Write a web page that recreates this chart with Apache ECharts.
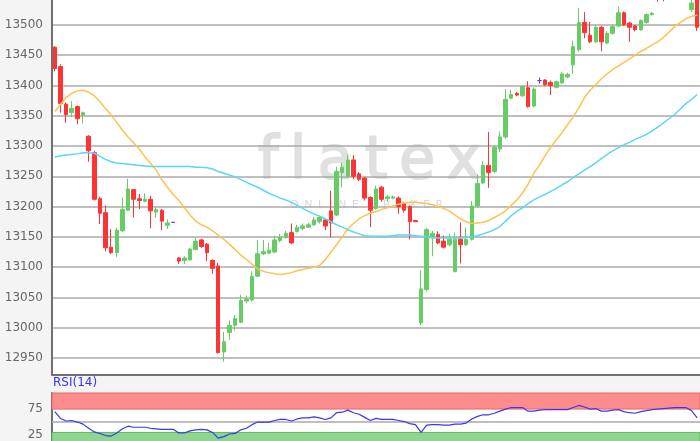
<!DOCTYPE html>
<html>
<head>
<meta charset="utf-8">
<script src="https://cdn.jsdelivr.net/npm/echarts@6/dist/echarts.min.js"></script>
<style>
  html, body { margin: 0; padding: 0; background: #f4f4f4; }
  #chart { width: 700px; height: 441px; }
</style>
</head>
<body>
<div id="chart"></div>
<script>
// Kursdaten (OHLC)
const opens = [
  13463, 13431, 13369, 13355, 13365, 13351, 13316, 13289, 13213, 13190,
  13133, 13124, 13160, 13194, 13228, 13213, 13209, 13212, 13191, 13194,
  13169, 13174, 13115, 13111, 13112, 13129, 13145, 13138, 13111, 13102,
  12960, 12992, 13004, 13009, 13044, 13046, 13085, 13122, 13123, 13125,
  13144, 13149, 13157, 13159, 13164, 13166, 13170, 13175, 13178, 13193,
  13186, 13256, 13250, 13277, 13254, 13247, 13215, 13197, 13232, 13213,
  13214, 13214, 13205, 13200, 13177, 13008, 13063, 13148, 13154, 13143,
  13137, 13093, 13146, 13137, 13146, 13201, 13239, 13268, 13258, 13295,
  13315, 13379, 13387, 13383, 13396, 13366, 13408, 13409, 13405, 13397,
  13404, 13414, 13434, 13459, 13504, 13483, 13472, 13496, 13470, 13486,
  13498, 13520, 13503, 13498, 13492, 13504, 13517, 13560, 13555, 13560,
  13575, 13580, 13570, 13525, 13548
];
const closes = [
  13428, 13370, 13352, 13362, 13345, 13355, 13292, 13212, 13189, 13132,
  13124, 13161, 13195, 13229, 13212, 13210, 13212, 13193, 13195, 13176,
  13173, 13174, 13110, 13115, 13130, 13143, 13134, 13124, 13098, 12959,
  12977, 13004, 13015, 13045, 13047, 13085, 13122, 13126, 13128, 13145,
  13149, 13156, 13140, 13166, 13168, 13170, 13178, 13182, 13168, 13173,
  13258, 13265, 13277, 13250, 13245, 13214, 13194, 13229, 13212, 13216,
  13216, 13200, 13194, 13175, 13175, 13064, 13162, 13156, 13140, 13133,
  13146, 13146, 13137, 13146, 13201, 13238, 13268, 13256, 13298, 13315,
  13377, 13385, 13384, 13398, 13365, 13394, 13408, 13401, 13400, 13406,
  13419, 13418, 13464, 13504, 13487, 13472, 13496, 13472, 13486, 13497,
  13520, 13500, 13496, 13492, 13507, 13517, 13519, 13545, 13547, 13575,
  13582, 13572, 13560, 13536, 13496
];
const lows = [
  13423, 13355, 13338, 13348, 13336, 13337, 13274, 13210, 13171, 13126,
  13122, 13117, 13158, 13193, 13182, 13196, 13207, 13164, 13182, 13161,
  13163, 13174, 13105, 13105, 13111, 13128, 13132, 13110, 13089, 12957,
  12944, 12980, 12995, 13008, 13041, 13043, 13084, 13120, 13121, 13123,
  13141, 13147, 13138, 13157, 13161, 13165, 13168, 13172, 13161, 13149,
  13184, 13232, 13248, 13245, 13242, 13210, 13166, 13195, 13208, 13208,
  13212, 13188, 13190, 13146, 13175, 13004, 13060, 13118, 13138, 13131,
  13134, 13091, 13106, 13135, 13144, 13199, 13237, 13231, 13255, 13290,
  13312, 13377, 13382, 13381, 13363, 13364, 13403, 13399, 13384, 13395,
  13403, 13412, 13419, 13456, 13478, 13470, 13470, 13456, 13468, 13484,
  13496, 13498, 13472, 13489, 13490, 13502, 13515, 13538, 13539, 13555,
  13568, 13565, 13550, 13521, 13490
];
const highs = [
  13465, 13435, 13372, 13374, 13367, 13357, 13318, 13292, 13216, 13202,
  13163, 13165, 13215, 13246, 13229, 13221, 13222, 13218, 13198, 13196,
  13179, 13174, 13117, 13118, 13132, 13149, 13147, 13140, 13113, 13107,
  12993, 13012, 13021, 13054, 13053, 13093, 13145, 13145, 13140, 13152,
  13155, 13160, 13172, 13170, 13172, 13173, 13183, 13185, 13180, 13226,
  13266, 13272, 13285, 13285, 13257, 13249, 13217, 13234, 13234, 13219,
  13218, 13217, 13207, 13202, 13177, 13095, 13165, 13160, 13159, 13152,
  13155, 13157, 13174, 13165, 13209, 13253, 13275, 13323, 13301, 13324,
  13394, 13393, 13389, 13399, 13407, 13397, 13413, 13410, 13408, 13408,
  13422, 13421, 13474, 13528, 13521, 13505, 13500, 13498, 13490, 13500,
  13530, 13522, 13505, 13500, 13509, 13519, 13521, 13565, 13570, 13580,
  13590, 13588, 13578, 13545, 13555
];
// gleitende Durchschnitte (orange = kurz, hellblau = lang)
const maShort = [
  13357, 13368, 13380, 13387, 13391, 13392, 13389, 13383, 13373, 13362,
  13351, 13339, 13326, 13315, 13305, 13295, 13282, 13271, 13260, 13244,
  13232, 13220, 13210, 13198, 13186, 13176, 13170, 13166, 13160, 13153,
  13146, 13138, 13129, 13120, 13113, 13105, 13097, 13093, 13091, 13089,
  13088, 13089, 13091, 13094, 13096, 13098, 13100, 13103, 13112, 13125,
  13137, 13150, 13163, 13172, 13180, 13185, 13189, 13192, 13195, 13198,
  13201, 13204, 13206, 13207, 13207, 13206, 13205, 13203, 13200, 13197,
  13193, 13186, 13180, 13175, 13172, 13173, 13174, 13177, 13182, 13187,
  13193, 13202, 13211, 13222, 13237, 13255, 13268, 13284, 13298, 13310,
  13322, 13335, 13348, 13363, 13380, 13392, 13401, 13411, 13419, 13426,
  13432, 13438, 13444, 13450, 13456, 13461, 13467, 13472, 13479, 13488,
  13497, 13504, 13510, 13514, 13516
];
const maLong = [
  13282, 13284, 13285, 13286, 13287, 13289, 13289, 13288, 13283, 13278,
  13274, 13272, 13271, 13270, 13269, 13268, 13267, 13266, 13266, 13266,
  13266, 13266, 13266, 13266, 13266, 13265, 13265, 13264, 13262, 13258,
  13255, 13252, 13249, 13245, 13240, 13236, 13232, 13227, 13222, 13218,
  13214, 13211, 13207, 13202, 13197, 13192, 13188, 13184, 13180, 13175,
  13170, 13166, 13162, 13158, 13155, 13152, 13151, 13151, 13151, 13151,
  13152, 13153, 13153, 13153, 13152, 13151, 13150, 13149, 13148, 13148,
  13148, 13148, 13148, 13149, 13150, 13152, 13155, 13158, 13162, 13167,
  13176, 13185, 13192, 13198, 13205, 13211, 13216, 13220, 13225, 13230,
  13236, 13241, 13248, 13254, 13260, 13266, 13272, 13279, 13286, 13292,
  13297, 13302, 13306, 13311, 13315, 13319, 13325, 13331, 13338, 13345,
  13352, 13361, 13370, 13377, 13385
];
const rsiValues = [
  70, 57, 52, 53, 50, 46, 38, 31, 28, 24,
  23, 29, 37, 42, 40, 40, 40, 38, 37, 36,
  36, 36, 29, 29, 33, 35, 36, 35, 30, 19,
  22, 27, 28, 35, 38, 45, 50, 50, 50, 53,
  55, 55, 52, 56, 58, 58, 60, 58, 55, 58,
  68, 69, 73, 68, 65, 59, 53, 57, 55, 55,
  55, 53, 51, 47, 45, 30, 44, 45, 45, 44,
  44, 46, 46, 48, 56, 61, 64, 64, 67, 71,
  75, 78, 78, 78, 71, 71, 73, 74, 74, 74,
  74, 74, 78, 82, 79, 75, 76, 71, 71, 73,
  74, 70, 68, 67, 70, 72, 74, 75, 76, 77,
  78, 78, 78, 72, 58
];
const rsiLabels = [25, 75];
const rsiOverbought = [75, 106];
const rsiOversold = [0, 30];

const categories = opens.map((v, i) => String(i + 1));
const candleData = opens.map((o, i) => [o, closes[i], lows[i], highs[i]]);

const chart = echarts.init(document.getElementById('chart'));

const option = {
  backgroundColor: '#f4f4f4',
  animation: false,
  title: {
    text: 'RSI(14)',
    left: 53,
    top: 377,
    padding: 0,
    textStyle: { color: '#3535f5', fontSize: 12, fontWeight: 'normal', fontFamily: 'DejaVu Sans' }
  },
  grid: [
    { left: 52, right: 0, top: 0, height: 375, show: true, backgroundColor: '#fff', borderWidth: 0, z: -2, outerBoundsMode: 'none' },
    { left: 52, right: 0, top: 393, height: 55, show: true, backgroundColor: '#fff', borderWidth: 0, z: -2, outerBoundsMode: 'none' }
  ],
  graphic: [
    {
      type: 'text', left: 257, top: 133, z: -1,
      style: {
        text: 'f\u2009l\u2009a\u2009t\u2009e\u2009x',
        font: '58px "DejaVu Sans"',
        fill: '#e0e0e0', stroke: '#e0e0e0', lineWidth: 2
      }
    },
    {
      type: 'text', left: 290, top: 200, z: -1,
      style: {
        text: 'O\u2002N\u2002L\u2002I\u2002N\u2002E\u2002\u2002B\u2002R\u2002O\u2002K\u2002E\u2002R',
        font: '11px "DejaVu Sans"',
        fill: '#d9d9d9'
      }
    }
  ],
  xAxis: [
    {
      type: 'category', data: categories, gridIndex: 0, boundaryGap: true,
      axisLine: { show: true, lineStyle: { color: '#707070', width: 2 } },
      axisTick: { show: false }, axisLabel: { show: false }, splitLine: { show: false }
    },
    {
      type: 'category', data: categories, gridIndex: 1, boundaryGap: true, position: 'top',
      axisLine: { show: true, lineStyle: { color: '#707070', width: 2 } },
      axisTick: { show: false }, axisLabel: { show: false }, splitLine: { show: false }
    }
  ],
  yAxis: [
    {
      type: 'value', gridIndex: 0, min: 12922, max: 13541, splitNumber: 10,
      axisLine: { show: true, lineStyle: { color: '#707070', width: 2 } },
      axisTick: { show: false },
      axisLabel: {
        color: '#666', fontSize: 12, fontFamily: 'DejaVu Sans', margin: 9,
        showMinLabel: false, showMaxLabel: false,
        formatter: v => String(v)
      },
      splitLine: { show: true, showMinLine: false, showMaxLine: false, lineStyle: { color: '#aaa', width: 1.5 } }
    },
    {
      type: 'value', gridIndex: 1, min: 0, max: 106, interval: 25,
      axisLine: { show: true, lineStyle: { color: '#707070', width: 2 } },
      axisTick: { show: false },
      axisLabel: {
        color: '#666', fontSize: 12, fontFamily: 'DejaVu Sans', margin: 9,
        formatter: v => (rsiLabels.includes(v) ? String(v) : '')
      },
      splitLine: { show: false }
    }
  ],
  series: [
    {
      type: 'candlestick', name: 'Kurs', xAxisIndex: 0, yAxisIndex: 0,
      data: candleData, barWidth: 4,
      itemStyle: {
        color: '#66cc66', color0: '#ff3333',
        borderColor: '#66cc66', borderColor0: '#ff3333', borderColorDoji: '#6633ff',
        borderWidth: 1
      }
    },
    {
      type: 'line', name: 'MA kurz', xAxisIndex: 0, yAxisIndex: 0, data: maShort,
      symbol: 'none', lineStyle: { color: '#ffc24f', width: 1.5 }
    },
    {
      type: 'line', name: 'MA lang', xAxisIndex: 0, yAxisIndex: 0, data: maLong,
      symbol: 'none', lineStyle: { color: '#5ad6f7', width: 1.5 }
    },
    {
      type: 'line', name: 'RSI(14)', xAxisIndex: 1, yAxisIndex: 1, data: rsiValues,
      symbol: 'none', lineStyle: { color: '#3838f0', width: 1.2 }, z: 5,
      markArea: {
        silent: true,
        data: [
          [{ yAxis: rsiOverbought[0], itemStyle: { color: '#ff8c8c', borderColor: '#e06a6a', borderWidth: 1 } }, { yAxis: rsiOverbought[1] }],
          [{ yAxis: rsiOversold[0], itemStyle: { color: '#8fd48f', borderColor: '#5cb85c', borderWidth: 1 } }, { yAxis: rsiOversold[1] }]
        ]
      },
      markLine: {
        silent: true, symbol: 'none', label: { show: false },
        lineStyle: { color: '#aaa', width: 1.5, type: 'solid' },
        data: [{ yAxis: 50 }]
      }
    }
  ]
};

chart.setOption(option);
</script>
</body>
</html>
